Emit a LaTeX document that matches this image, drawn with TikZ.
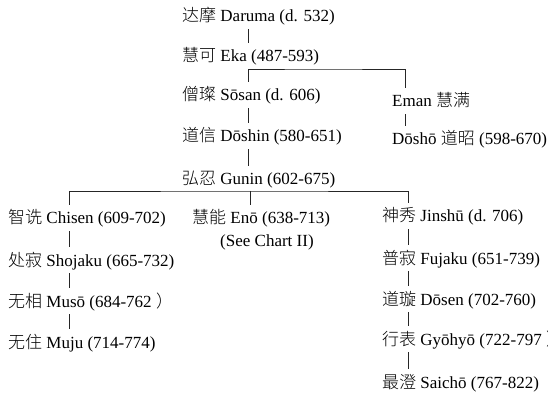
\documentclass[tikz,border=0pt]{standalone}
\usepackage{fontspec}
\setmainfont{Liberation Serif}
\newfontfamily\cjk{Noto Sans CJK SC Light}
\begin{document}
\begin{tikzpicture}[x=1pt,y=-1pt,
  person/.style={anchor=base west, inner sep=0pt, text height=19pt, text depth=7pt, font=\fontsize{17}{20}\selectfont},
  link/.style={draw=black!85, line width=0.75pt}]
\useasboundingbox (0,0) rectangle (548,395);
% main column
\node[person] (daruma) at (182,22) {{\cjk 达摩} Daruma (d. 532)};
\node[person] (eka) at (182,62) {{\cjk 慧可} Eka (487-593)};
\node[person] (sosan) at (182,101) {{\cjk 僧璨} Sōsan (d. 606)};
\node[person] (eman) at (392,107) {Eman {\cjk 慧满}};
\node[person] (doshin) at (182,142) {{\cjk 道信} Dōshin (580-651)};
\node[person] (dosho) at (392,145) {Dōshō {\cjk 道昭} (598-670)};
\node[person] (gunin) at (182,185) {{\cjk 弘忍} Gunin (602-675)};
% left column
\node[person] (chisen) at (8,224) {{\cjk 智诜} Chisen (609-702)};
\node[person] (shojaku) at (8,266) {{\cjk 处寂} Shojaku (665-732)};
\node[person] (muso) at (8,307) {{\cjk 无相} Musō (684-762 {\cjk ）}};
\node[person] (muju) at (8,348) {{\cjk 无住} Muju (714-774)};
% middle
\node[person] (eno) at (192,224) {{\cjk 慧能} Enō (638-713)};
\node[person] (enonote) at (220,247) {(See Chart II)};
% right column
\node[person] (jinshu) at (382,222) {{\cjk 神秀} Jinshū (d. 706)};
\node[person] (fujaku) at (382,264) {{\cjk 普寂} Fujaku (651-739)};
\node[person] (dosen) at (382,305) {{\cjk 道璇} Dōsen (702-760)};
\node[person] (gyohyo) at (382,345) {{\cjk 行表} Gyōhyō (722-797 {\cjk ）}};
\node[person] (saicho) at (382,388) {{\cjk 最澄} Saichō (767-822)};
% connectors
\coordinate (j1) at (320,69);
\coordinate (j2) at (250,191);
\draw[link] ([xshift=66.5]daruma.south west) -- ([xshift=66.5]eka.north west);
\draw[link] ([xshift=66.5]sosan.north west) |- (j1) -| ([xshift=13]eman.north west);
\draw[link] ([xshift=66.5]sosan.south west) -- ([xshift=66.5]doshin.north west);
\draw[link] ([xshift=13]eman.south west) -- ([xshift=13]dosho.north west);
\draw[link] ([xshift=66.5]doshin.south west) -- ([xshift=66.5]gunin.north west);
\draw[link] ([xshift=61]chisen.north west) |- (j2) -| ([xshift=26.3]jinshu.north west);
\draw[link] (j2) -- ([xshift=58]eno.north west);
\draw[link] ([xshift=61]chisen.south west) -- ([xshift=61]shojaku.north west);
\draw[link] ([xshift=61]shojaku.south west) -- ([xshift=61]muso.north west);
\draw[link] ([xshift=61]muso.south west) -- ([xshift=61]muju.north west);
\draw[link] ([xshift=26.3]jinshu.south west) -- ([xshift=26.3]fujaku.north west);
\draw[link] ([xshift=26.3]fujaku.south west) -- ([xshift=26.3]dosen.north west);
\draw[link] ([xshift=26.3]dosen.south west) -- ([xshift=26.3]gyohyo.north west);
\draw[link] ([xshift=26.3]gyohyo.south west) -- ([xshift=26.3]saicho.north west);
\end{tikzpicture}
\end{document}
